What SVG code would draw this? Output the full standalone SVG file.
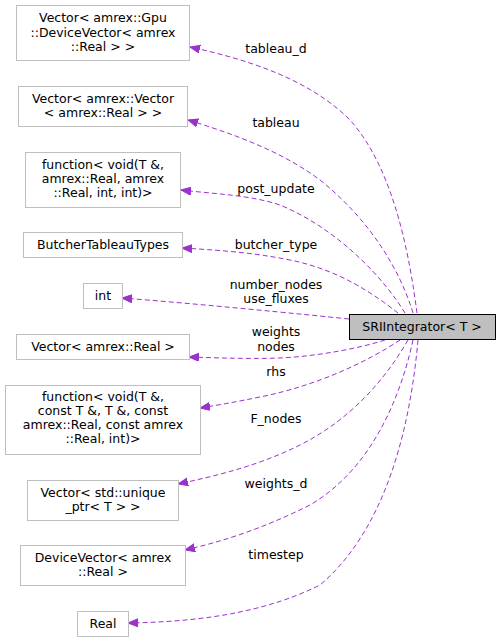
<svg xmlns="http://www.w3.org/2000/svg" width="500" height="643" viewBox="0 0 500 643">
<style>
.box{fill:#ffffff;stroke:#bfbfbf;stroke-width:1}
.main{fill:#bfbfbf;stroke:#000000;stroke-width:1}
text{font-family:"DejaVu Sans","Liberation Sans",sans-serif;font-size:12.5px;fill:#000000;text-anchor:middle}
.e{fill:none;stroke:#9a32cd;stroke-width:1;stroke-dasharray:5,3}
</style>
<defs>
<marker id="ah" markerUnits="userSpaceOnUse" markerWidth="12" markerHeight="10" refX="10" refY="4" orient="auto">
<path d="M0,0 L10,4 L0,8 Z" fill="#9a32cd" stroke="#9a32cd"/>
</marker>
</defs>
<g id="edges">
<path class="e" marker-end="url(#ah)" d="M417,313 C410,260 395,170 350,120 C310,80 250,60 190,47"/>
<path class="e" marker-end="url(#ah)" d="M413,313 C400,270 370,220 320,180 C280,150 230,133 188,120"/>
<path class="e" marker-end="url(#ah)" d="M405,313 C385,280 340,230 280,205 C250,195 215,194 181,190"/>
<path class="e" marker-end="url(#ah)" d="M398,313 C375,295 340,270 290,260 C250,252 215,250 182,248"/>
<path class="e" marker-end="url(#ah)" d="M349,319 C300,314 200,304 122,298"/>
<path class="e" marker-end="url(#ah)" d="M385,340 C360,348 320,356 280,358 C250,359 220,358 189,357"/>
<path class="e" marker-end="url(#ah)" d="M400,340 C370,360 320,385 260,397 C240,401 225,404 200,408"/>
<path class="e" marker-end="url(#ah)" d="M408,340 C385,380 350,420 300,445 C260,465 220,475 178,484"/>
<path class="e" marker-end="url(#ah)" d="M413,340 C400,400 370,470 310,505 C260,530 220,542 185,550"/>
<path class="e" marker-end="url(#ah)" d="M418,340 C410,430 385,530 320,585 C260,615 190,622 128,623"/>
<text x="276" y="53">tableau_d</text>
<text x="276" y="127">tableau</text>
<text x="276" y="193">post_update</text>
<text x="276" y="249">butcher_type</text>
<text x="276" y="289">number_nodes</text>
<text x="276" y="303">use_fluxes</text>
<text x="276" y="336">weights</text>
<text x="276" y="351">nodes</text>
<text x="276" y="376">rhs</text>
<text x="276" y="423">F_nodes</text>
<text x="276" y="488">weights_d</text>
<text x="276" y="559">timestep</text>
</g>
<g id="main">
<rect class="main" x="349.5" y="314.5" width="146" height="25"/>
<text x="422" y="331">SRIIntegrator&lt; T &gt;</text>
</g>
<g id="n1">
<rect class="box" x="16.5" y="5.5" width="173" height="55"/>
<text x="103" y="22">Vector&lt; amrex::Gpu</text>
<text x="103" y="37">::DeviceVector&lt; amrex</text>
<text x="103" y="51">::Real &gt; &gt;</text>
</g>
<g id="n2">
<rect class="box" x="18.5" y="86.5" width="169" height="40"/>
<text x="103" y="103">Vector&lt; amrex::Vector</text>
<text x="103" y="117">&lt; amrex::Real &gt; &gt;</text>
</g>
<g id="n3">
<rect class="box" x="25.5" y="152.5" width="155" height="55"/>
<text x="103" y="169">function&lt; void(T &amp;,</text>
<text x="103" y="183">amrex::Real, amrex</text>
<text x="103" y="197">::Real, int, int)&gt;</text>
</g>
<g id="n4">
<rect class="box" x="23.5" y="232.5" width="159" height="25"/>
<text x="103" y="249">ButcherTableauTypes</text>
</g>
<g id="n5">
<rect class="box" x="83.5" y="283.5" width="39" height="25"/>
<text x="103" y="300">int</text>
</g>
<g id="n6">
<rect class="box" x="16.5" y="334.5" width="173" height="25"/>
<text x="103" y="351">Vector&lt; amrex::Real &gt;</text>
</g>
<g id="n7">
<rect class="box" x="5.5" y="385.5" width="195" height="69"/>
<text x="103" y="401">function&lt; void(T &amp;,</text>
<text x="103" y="415">const T &amp;, T &amp;, const</text>
<text x="103" y="429">amrex::Real, const amrex</text>
<text x="103" y="443">::Real, int)&gt;</text>
</g>
<g id="n8">
<rect class="box" x="27.5" y="480.5" width="151" height="40"/>
<text x="103" y="497">Vector&lt; std::unique</text>
<text x="103" y="511">_ptr&lt; T &gt; &gt;</text>
</g>
<g id="n9">
<rect class="box" x="20.5" y="545.5" width="165" height="40"/>
<text x="103" y="562">DeviceVector&lt; amrex</text>
<text x="103" y="576">::Real &gt;</text>
</g>
<g id="n10">
<rect class="box" x="77.5" y="611.5" width="51" height="25"/>
<text x="103" y="628">Real</text>
</g>
</svg>
